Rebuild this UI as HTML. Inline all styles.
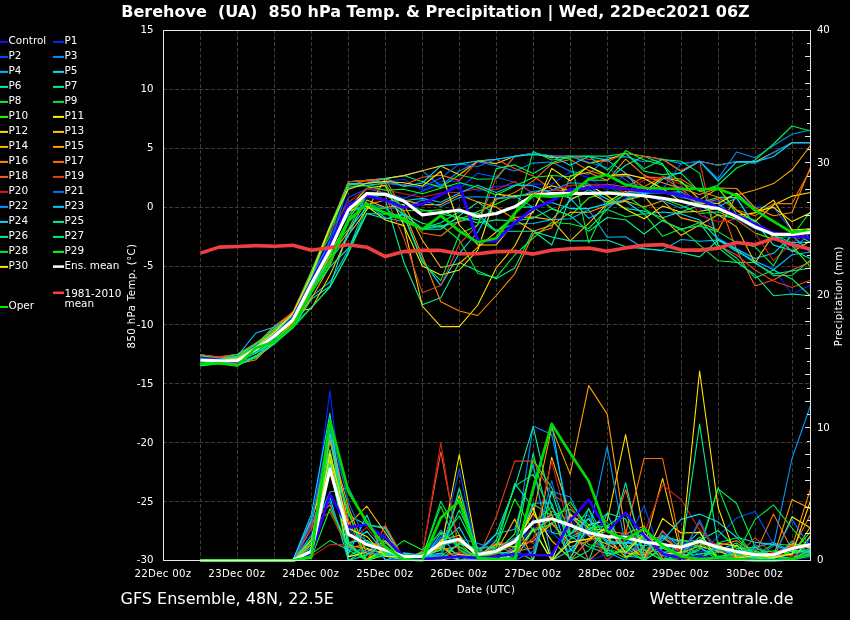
<!DOCTYPE html>
<html><head><meta charset="utf-8"><style>html,body{margin:0;padding:0;background:#000;width:850px;height:620px;overflow:hidden}svg{display:block}</style></head>
<body><svg width="850" height="620" viewBox="0 0 850 620">
<rect width="850" height="620" fill="#000"/>
<path d="M163.5 501.50H810.5M163.5 442.50H810.5M163.5 383.50H810.5M163.5 324.50H810.5M163.5 266.50H810.5M163.5 207.50H810.5M163.5 148.50H810.5M163.5 89.50H810.5" stroke="#3e3e30" stroke-width="1" stroke-dasharray="3.9,2.1" stroke-dashoffset="0.45" fill="none"/>
<path d="M200.50 560.5V30.5M237.50 560.5V30.5M274.50 560.5V30.5M311.50 560.5V30.5M348.50 560.5V30.5M385.50 560.5V30.5M422.50 560.5V30.5M459.50 560.5V30.5M496.50 560.5V30.5M533.50 560.5V30.5M570.50 560.5V30.5M607.50 560.5V30.5M644.50 560.5V30.5M681.50 560.5V30.5M718.50 560.5V30.5M755.50 560.5V30.5M792.50 560.5V30.5" stroke="#3e3e30" stroke-width="1" stroke-dasharray="3.9,2.1" stroke-dashoffset="1.45" fill="none"/>
<polyline points="200.5,356.8 219.0,359.3 237.4,358.8 255.9,346.8 274.4,326.3 292.9,313.1 311.4,276.1 329.9,239.9 348.4,187.2 366.8,184.1 385.3,181.3 403.8,179.3 422.3,190.2 440.8,181.4 459.3,181.5 477.8,191.1 496.2,186.4 514.7,185.4 533.2,184.1 551.7,184.3 570.2,171.9 588.7,177.8 607.2,190.6 625.6,173.6 644.1,188.1 662.6,190.7 681.1,186.4 699.6,206.9 718.1,238.0 736.6,248.0 755.1,262.0 773.5,268.0 792.0,294.5 810.5,285.0" fill="none" stroke="#0028ff" stroke-width="1.1" stroke-linejoin="round"/>
<polyline points="200.5,359.2 219.0,360.6 237.4,361.5 255.9,348.9 274.4,335.4 292.9,318.5 311.4,282.1 329.9,240.3 348.4,197.5 366.8,188.8 385.3,192.9 403.8,198.4 422.3,191.3 440.8,184.1 459.3,188.9 477.8,173.2 496.2,177.1 514.7,182.3 533.2,193.6 551.7,193.6 570.2,190.4 588.7,186.9 607.2,185.2 625.6,197.1 644.1,192.7 662.6,192.1 681.1,197.8 699.6,200.2 718.1,201.2 736.6,193.4 755.1,207.4 773.5,206.8 792.0,231.2 810.5,232.1" fill="none" stroke="#0050ff" stroke-width="1.1" stroke-linejoin="round"/>
<polyline points="200.5,355.7 219.0,358.6 237.4,355.7 255.9,345.7 274.4,330.3 292.9,316.1 311.4,271.4 329.9,231.0 348.4,181.8 366.8,180.4 385.3,178.5 403.8,175.6 422.3,170.8 440.8,186.0 459.3,171.0 477.8,161.7 496.2,165.8 514.7,171.0 533.2,163.1 551.7,162.0 570.2,171.2 588.7,174.2 607.2,157.6 625.6,156.6 644.1,162.0 662.6,159.2 681.1,163.6 699.6,161.3 718.1,178.6 736.6,152.0 755.1,157.8 773.5,145.5 792.0,134.2 810.5,130.0" fill="none" stroke="#0090ff" stroke-width="1.1" stroke-linejoin="round"/>
<polyline points="200.5,363.2 219.0,363.1 237.4,362.0 255.9,356.6 274.4,338.7 292.9,325.5 311.4,296.6 329.9,282.0 348.4,249.9 366.8,202.9 385.3,218.0 403.8,221.5 422.3,229.3 440.8,226.4 459.3,221.8 477.8,216.6 496.2,230.5 514.7,224.0 533.2,223.5 551.7,219.6 570.2,218.7 588.7,209.8 607.2,237.3 625.6,236.7 644.1,248.8 662.6,250.0 681.1,239.5 699.6,241.2 718.1,240.1 736.6,251.7 755.1,261.0 773.5,269.7 792.0,254.7 810.5,252.0" fill="none" stroke="#00b8ff" stroke-width="1.1" stroke-linejoin="round"/>
<polyline points="200.5,364.3 219.0,362.0 237.4,361.3 255.9,352.2 274.4,341.6 292.9,321.0 311.4,287.7 329.9,252.9 348.4,206.6 366.8,196.5 385.3,199.5 403.8,215.0 422.3,260.4 440.8,285.6 459.3,253.4 477.8,232.0 496.2,199.1 514.7,196.1 533.2,207.4 551.7,202.4 570.2,208.6 588.7,208.6 607.2,203.6 625.6,201.3 644.1,214.3 662.6,212.0 681.1,213.9 699.6,220.0 718.1,239.1 736.6,249.1 755.1,258.5 773.5,253.3 792.0,235.5 810.5,252.1" fill="none" stroke="#00e0ff" stroke-width="1.1" stroke-linejoin="round"/>
<polyline points="200.5,364.3 219.0,362.6 237.4,364.2 255.9,357.7 274.4,343.8 292.9,327.5 311.4,299.1 329.9,286.3 348.4,230.4 366.8,207.2 385.3,212.6 403.8,217.9 422.3,229.3 440.8,229.3 459.3,215.8 477.8,202.1 496.2,214.9 514.7,206.7 533.2,207.1 551.7,219.6 570.2,200.6 588.7,189.6 607.2,199.1 625.6,208.5 644.1,211.1 662.6,217.8 681.1,211.8 699.6,205.6 718.1,214.9 736.6,218.7 755.1,222.1 773.5,245.1 792.0,250.2 810.5,258.5" fill="none" stroke="#00f0c0" stroke-width="1.1" stroke-linejoin="round"/>
<polyline points="200.5,359.1 219.0,359.9 237.4,358.5 255.9,346.3 274.4,334.5 292.9,318.0 311.4,283.0 329.9,249.8 348.4,229.4 366.8,193.2 385.3,200.0 403.8,262.0 422.3,304.8 440.8,297.7 459.3,262.4 477.8,271.0 496.2,278.7 514.7,268.0 533.2,231.0 551.7,245.0 570.2,197.3 588.7,180.0 607.2,180.2 625.6,165.3 644.1,156.2 662.6,163.8 681.1,196.2 699.6,203.0 718.1,197.4 736.6,197.6 755.1,226.5 773.5,234.6 792.0,234.4 810.5,231.6" fill="none" stroke="#00f090" stroke-width="1.1" stroke-linejoin="round"/>
<polyline points="200.5,355.5 219.0,358.6 237.4,357.3 255.9,344.7 274.4,326.3 292.9,313.8 311.4,271.4 329.9,235.8 348.4,181.8 366.8,180.4 385.3,178.7 403.8,175.6 422.3,181.8 440.8,187.4 459.3,174.8 477.8,179.2 496.2,178.8 514.7,156.3 533.2,153.3 551.7,156.1 570.2,158.0 588.7,156.1 607.2,156.1 625.6,153.2 644.1,171.2 662.6,174.6 681.1,173.1 699.6,191.7 718.1,185.0 736.6,168.0 755.1,160.0 773.5,144.0 792.0,126.0 810.5,131.0" fill="none" stroke="#00f050" stroke-width="1.1" stroke-linejoin="round"/>
<polyline points="200.5,365.4 219.0,363.5 237.4,365.3 255.9,357.3 274.4,342.2 292.9,325.7 311.4,307.5 329.9,287.2 348.4,253.1 366.8,207.9 385.3,208.4 403.8,221.5 422.3,229.3 440.8,225.0 459.3,240.0 477.8,273.5 496.2,277.6 514.7,255.0 533.2,238.0 551.7,222.5 570.2,223.8 588.7,228.5 607.2,209.6 625.6,216.8 644.1,213.6 662.6,236.3 681.1,228.7 699.6,244.9 718.1,260.8 736.6,262.4 755.1,262.5 773.5,275.6 792.0,275.3 810.5,260.0" fill="none" stroke="#00f030" stroke-width="1.1" stroke-linejoin="round"/>
<polyline points="200.5,361.1 219.0,362.8 237.4,362.5 255.9,351.4 274.4,335.8 292.9,320.3 311.4,282.5 329.9,244.7 348.4,215.3 366.8,193.1 385.3,199.8 403.8,210.2 422.3,211.0 440.8,209.8 459.3,219.5 477.8,211.4 496.2,204.0 514.7,195.5 533.2,194.7 551.7,208.3 570.2,215.8 588.7,198.0 607.2,191.8 625.6,192.2 644.1,197.0 662.6,198.7 681.1,205.5 699.6,213.5 718.1,211.7 736.6,219.8 755.1,233.1 773.5,239.2 792.0,245.4 810.5,266.9" fill="none" stroke="#20ff00" stroke-width="1.1" stroke-linejoin="round"/>
<polyline points="200.5,360.9 219.0,361.1 237.4,359.5 255.9,349.2 274.4,332.3 292.9,315.8 311.4,282.9 329.9,252.6 348.4,211.0 366.8,206.0 385.3,220.0 403.8,225.6 422.3,266.0 440.8,275.0 459.3,270.0 477.8,250.0 496.2,194.1 514.7,196.5 533.2,193.5 551.7,185.8 570.2,190.9 588.7,184.8 607.2,195.7 625.6,209.2 644.1,218.8 662.6,206.1 681.1,212.3 699.6,211.2 718.1,208.5 736.6,215.4 755.1,212.9 773.5,200.1 792.0,230.1 810.5,228.7" fill="none" stroke="#ffee00" stroke-width="1.1" stroke-linejoin="round"/>
<polyline points="200.5,359.2 219.0,360.7 237.4,357.7 255.9,344.8 274.4,332.6 292.9,318.3 311.4,280.3 329.9,248.7 348.4,208.1 366.8,188.4 385.3,185.4 403.8,225.0 422.3,306.0 440.8,326.6 459.3,326.6 477.8,305.0 496.2,268.0 514.7,246.0 533.2,210.0 551.7,176.6 570.2,199.1 588.7,192.3 607.2,202.2 625.6,191.5 644.1,192.2 662.6,177.3 681.1,181.5 699.6,199.6 718.1,188.4 736.6,210.5 755.1,221.5 773.5,205.1 792.0,196.1 810.5,192.5" fill="none" stroke="#ffdd00" stroke-width="1.1" stroke-linejoin="round"/>
<polyline points="200.5,354.7 219.0,357.1 237.4,354.2 255.9,345.0 274.4,330.0 292.9,312.0 311.4,308.7 329.9,275.0 348.4,235.0 366.8,210.0 385.3,178.5 403.8,175.6 422.3,170.8 440.8,165.9 459.3,174.7 477.8,161.0 496.2,163.6 514.7,156.3 533.2,153.3 551.7,157.6 570.2,156.1 588.7,163.1 607.2,159.7 625.6,153.2 644.1,156.2 662.6,159.2 681.1,171.3 699.6,161.3 718.1,165.3 736.6,161.6 755.1,161.9 773.5,152.4 792.0,142.7 810.5,142.7" fill="none" stroke="#ffcc00" stroke-width="1.1" stroke-linejoin="round"/>
<polyline points="200.5,365.0 219.0,361.8 237.4,361.6 255.9,350.9 274.4,336.4 292.9,322.5 311.4,289.2 329.9,256.9 348.4,231.5 366.8,200.0 385.3,207.5 403.8,204.3 422.3,240.0 440.8,267.5 459.3,263.5 477.8,247.3 496.2,232.0 514.7,217.3 533.2,217.1 551.7,219.7 570.2,240.9 588.7,223.3 607.2,203.6 625.6,200.1 644.1,195.6 662.6,218.1 681.1,235.3 699.6,225.1 718.1,214.8 736.6,226.9 755.1,263.1 773.5,234.1 792.0,251.7 810.5,241.0" fill="none" stroke="#ffbb00" stroke-width="1.1" stroke-linejoin="round"/>
<polyline points="200.5,363.9 219.0,361.6 237.4,362.0 255.9,349.4 274.4,335.7 292.9,323.2 311.4,298.5 329.9,265.8 348.4,219.1 366.8,192.6 385.3,194.2 403.8,200.1 422.3,204.6 440.8,204.6 459.3,194.9 477.8,201.9 496.2,207.0 514.7,219.3 533.2,231.2 551.7,225.2 570.2,212.4 588.7,212.2 607.2,205.3 625.6,201.1 644.1,207.1 662.6,200.8 681.1,217.9 699.6,222.4 718.1,230.2 736.6,195.0 755.1,190.0 773.5,183.6 792.0,169.8 810.5,145.5" fill="none" stroke="#ffa000" stroke-width="1.1" stroke-linejoin="round"/>
<polyline points="200.5,358.3 219.0,359.4 237.4,364.0 255.9,359.7 274.4,341.0 292.9,323.0 311.4,292.0 329.9,255.0 348.4,220.0 366.8,205.0 385.3,200.0 403.8,211.0 422.3,256.0 440.8,301.8 459.3,311.0 477.8,315.5 496.2,295.5 514.7,274.0 533.2,234.0 551.7,228.0 570.2,175.9 588.7,172.4 607.2,180.5 625.6,159.1 644.1,175.3 662.6,182.7 681.1,188.4 699.6,194.6 718.1,188.0 736.6,188.5 755.1,207.8 773.5,215.8 792.0,212.5 810.5,167.2" fill="none" stroke="#ff8c00" stroke-width="1.1" stroke-linejoin="round"/>
<polyline points="200.5,358.0 219.0,360.2 237.4,360.2 255.9,348.0 274.4,328.8 292.9,316.9 311.4,277.9 329.9,226.7 348.4,185.7 366.8,180.4 385.3,178.5 403.8,212.0 422.3,233.0 440.8,236.0 459.3,221.0 477.8,215.0 496.2,199.3 514.7,192.5 533.2,180.9 551.7,163.9 570.2,159.5 588.7,170.6 607.2,176.0 625.6,175.8 644.1,186.7 662.6,176.8 681.1,179.1 699.6,190.7 718.1,197.2 736.6,210.0 755.1,215.7 773.5,203.6 792.0,203.6 810.5,169.3" fill="none" stroke="#ff7000" stroke-width="1.1" stroke-linejoin="round"/>
<polyline points="200.5,354.7 219.0,358.1 237.4,356.3 255.9,344.9 274.4,326.3 292.9,312.2 311.4,271.4 329.9,226.7 348.4,181.8 366.8,180.4 385.3,182.5 403.8,185.0 422.3,177.3 440.8,175.1 459.3,180.4 477.8,161.0 496.2,159.2 514.7,168.4 533.2,175.9 551.7,189.5 570.2,191.6 588.7,187.6 607.2,184.2 625.6,187.0 644.1,177.1 662.6,177.6 681.1,188.9 699.6,205.0 718.1,198.9 736.6,250.0 755.1,286.0 773.5,280.0 792.0,270.0 810.5,262.0" fill="none" stroke="#ff5a20" stroke-width="1.1" stroke-linejoin="round"/>
<polyline points="200.5,354.7 219.0,357.1 237.4,354.2 255.9,342.7 274.4,330.7 292.9,312.2 311.4,271.4 329.9,226.7 348.4,181.8 366.8,180.4 385.3,196.0 403.8,238.0 422.3,292.7 440.8,285.6 459.3,244.0 477.8,225.0 496.2,177.6 514.7,156.3 533.2,153.3 551.7,156.1 570.2,156.1 588.7,159.3 607.2,161.8 625.6,153.2 644.1,156.2 662.6,159.2 681.1,170.6 699.6,161.3 718.1,245.0 736.6,255.0 755.1,270.0 773.5,281.0 792.0,287.6 810.5,280.0" fill="none" stroke="#e04020" stroke-width="1.1" stroke-linejoin="round"/>
<polyline points="200.5,360.9 219.0,360.7 237.4,359.5 255.9,348.4 274.4,335.7 292.9,318.2 311.4,276.7 329.9,232.1 348.4,202.2 366.8,188.6 385.3,189.8 403.8,193.8 422.3,197.3 440.8,193.0 459.3,192.3 477.8,188.8 496.2,189.8 514.7,181.4 533.2,193.3 551.7,191.0 570.2,185.4 588.7,184.6 607.2,185.0 625.6,192.8 644.1,179.9 662.6,177.4 681.1,184.2 699.6,215.1 718.1,221.8 736.6,219.4 755.1,233.0 773.5,260.7 792.0,242.6 810.5,230.7" fill="none" stroke="#cc2020" stroke-width="1.1" stroke-linejoin="round"/>
<polyline points="200.5,358.3 219.0,359.6 237.4,358.9 255.9,344.9 274.4,334.9 292.9,319.8 311.4,282.8 329.9,247.1 348.4,184.4 366.8,185.6 385.3,183.4 403.8,185.4 422.3,187.3 440.8,178.1 459.3,163.9 477.8,166.5 496.2,159.2 514.7,156.9 533.2,153.3 551.7,156.1 570.2,156.1 588.7,162.2 607.2,167.9 625.6,179.9 644.1,194.1 662.6,189.4 681.1,163.7 699.6,161.3 718.1,165.3 736.6,161.6 755.1,163.5 773.5,152.4 792.0,142.7 810.5,142.7" fill="none" stroke="#0070ff" stroke-width="1.1" stroke-linejoin="round"/>
<polyline points="200.5,359.9 219.0,360.6 237.4,360.2 255.9,348.8 274.4,334.5 292.9,318.1 311.4,276.8 329.9,242.4 348.4,214.9 366.8,203.2 385.3,208.3 403.8,207.9 422.3,199.9 440.8,206.6 459.3,197.4 477.8,196.8 496.2,197.6 514.7,197.9 533.2,191.2 551.7,190.2 570.2,182.8 588.7,183.9 607.2,205.7 625.6,198.9 644.1,195.3 662.6,200.6 681.1,208.3 699.6,200.9 718.1,203.5 736.6,218.2 755.1,228.7 773.5,234.9 792.0,251.2 810.5,232.1" fill="none" stroke="#0098ff" stroke-width="1.1" stroke-linejoin="round"/>
<polyline points="200.5,361.0 219.0,360.9 237.4,356.0 255.9,333.0 274.4,327.0 292.9,318.0 311.4,286.7 329.9,260.3 348.4,235.9 366.8,194.3 385.3,200.7 403.8,200.7 422.3,198.4 440.8,202.2 459.3,192.9 477.8,185.2 496.2,192.6 514.7,185.1 533.2,185.7 551.7,193.0 570.2,198.2 588.7,218.4 607.2,209.2 625.6,193.2 644.1,192.8 662.6,193.0 681.1,191.6 699.6,205.4 718.1,206.8 736.6,198.0 755.1,226.3 773.5,235.3 792.0,242.5 810.5,242.1" fill="none" stroke="#00c8ff" stroke-width="1.1" stroke-linejoin="round"/>
<polyline points="200.5,357.2 219.0,358.6 237.4,358.7 255.9,346.6 274.4,332.3 292.9,316.8 311.4,271.5 329.9,228.2 348.4,183.6 366.8,183.3 385.3,178.5 403.8,186.4 422.3,183.0 440.8,165.9 459.3,163.9 477.8,161.0 496.2,159.2 514.7,156.3 533.2,154.6 551.7,156.1 570.2,165.3 588.7,156.6 607.2,160.1 625.6,173.1 644.1,194.8 662.6,179.1 681.1,172.3 699.6,161.3 718.1,181.0 736.6,161.6 755.1,161.9 773.5,156.5 792.0,142.7 810.5,142.7" fill="none" stroke="#00d8ff" stroke-width="1.1" stroke-linejoin="round"/>
<polyline points="200.5,364.7 219.0,361.7 237.4,361.7 255.9,353.3 274.4,341.6 292.9,325.4 311.4,291.9 329.9,266.8 348.4,248.3 366.8,213.5 385.3,218.7 403.8,214.6 422.3,228.4 440.8,222.7 459.3,211.8 477.8,213.4 496.2,231.3 514.7,231.3 533.2,231.2 551.7,237.0 570.2,240.9 588.7,240.9 607.2,240.0 625.6,246.8 644.1,248.8 662.6,250.8 681.1,252.8 699.6,256.9 718.1,240.0 736.6,250.0 755.1,263.0 773.5,274.0 792.0,271.0 810.5,268.0" fill="none" stroke="#00f0b0" stroke-width="1.1" stroke-linejoin="round"/>
<polyline points="200.5,365.9 219.0,363.7 237.4,365.9 255.9,355.6 274.4,343.4 292.9,327.8 311.4,307.5 329.9,287.2 348.4,252.8 366.8,213.5 385.3,214.3 403.8,214.3 422.3,223.3 440.8,227.3 459.3,217.3 477.8,223.0 496.2,219.9 514.7,221.0 533.2,218.1 551.7,208.9 570.2,215.6 588.7,231.3 607.2,217.5 625.6,219.7 644.1,234.0 662.6,220.3 681.1,230.0 699.6,222.6 718.1,247.6 736.6,262.0 755.1,275.0 773.5,295.7 792.0,294.0 810.5,295.7" fill="none" stroke="#00f090" stroke-width="1.1" stroke-linejoin="round"/>
<polyline points="200.5,355.3 219.0,359.2 237.4,354.2 255.9,344.2 274.4,328.7 292.9,316.8 311.4,277.3 329.9,229.2 348.4,187.3 366.8,185.5 385.3,183.0 403.8,215.0 422.3,262.4 440.8,280.6 459.3,234.2 477.8,225.0 496.2,168.6 514.7,164.9 533.2,173.6 551.7,163.1 570.2,156.1 588.7,156.1 607.2,170.1 625.6,153.2 644.1,168.7 662.6,159.6 681.1,161.2 699.6,173.1 718.1,245.0 736.6,258.0 755.1,278.0 773.5,270.0 792.0,279.0 810.5,296.0" fill="none" stroke="#00f060" stroke-width="1.1" stroke-linejoin="round"/>
<polyline points="200.5,361.9 219.0,362.2 237.4,361.8 255.9,352.6 274.4,338.4 292.9,320.9 311.4,285.3 329.9,255.3 348.4,218.4 366.8,195.1 385.3,195.4 403.8,206.3 422.3,209.7 440.8,213.9 459.3,217.7 477.8,219.6 496.2,231.3 514.7,215.8 533.2,151.5 551.7,160.0 570.2,158.0 588.7,242.9 607.2,203.4 625.6,194.8 644.1,208.5 662.6,220.9 681.1,228.8 699.6,225.9 718.1,231.6 736.6,242.7 755.1,246.8 773.5,265.9 792.0,232.0 810.5,242.4" fill="none" stroke="#00f030" stroke-width="1.1" stroke-linejoin="round"/>
<polyline points="200.5,355.9 219.0,359.4 237.4,357.7 255.9,343.5 274.4,331.1 292.9,314.0 311.4,272.2 329.9,226.7 348.4,183.9 366.8,186.0 385.3,190.2 403.8,189.2 422.3,193.8 440.8,188.3 459.3,182.7 477.8,187.2 496.2,195.0 514.7,186.1 533.2,177.5 551.7,175.5 570.2,176.8 588.7,166.6 607.2,175.0 625.6,150.6 644.1,160.0 662.6,165.0 681.1,183.2 699.6,190.4 718.1,186.7 736.6,214.3 755.1,220.3 773.5,237.7 792.0,236.5 810.5,211.5" fill="none" stroke="#00ff20" stroke-width="1.1" stroke-linejoin="round"/>
<polyline points="200.5,357.8 219.0,359.7 237.4,358.9 255.9,347.1 274.4,332.4 292.9,313.0 311.4,274.9 329.9,226.7 348.4,189.2 366.8,183.2 385.3,181.5 403.8,182.8 422.3,186.0 440.8,171.3 459.3,225.0 477.8,245.0 496.2,245.0 514.7,222.0 533.2,212.0 551.7,168.4 570.2,180.7 588.7,166.2 607.2,175.8 625.6,174.1 644.1,178.4 662.6,188.5 681.1,201.9 699.6,203.7 718.1,203.5 736.6,193.2 755.1,211.4 773.5,207.4 792.0,221.6 810.5,212.8" fill="none" stroke="#ffe600" stroke-width="1.1" stroke-linejoin="round"/>
<polyline points="200.5,560.5 219.0,560.5 237.4,560.5 255.9,560.5 274.4,560.5 292.9,560.5 311.4,534.0 329.9,390.9 348.4,547.2 366.8,560.5 385.3,551.4 403.8,560.5 422.3,558.0 440.8,536.8 459.3,557.8 477.8,548.4 496.2,539.4 514.7,553.6 533.2,519.2 551.7,534.7 570.2,513.8 588.7,560.5 607.2,554.3 625.6,548.2 644.1,560.5 662.6,560.5 681.1,547.3 699.6,551.5 718.1,549.8 736.6,545.5 755.1,560.5 773.5,560.5 792.0,553.1 810.5,539.9" fill="none" stroke="#0028ff" stroke-width="1.1" stroke-linejoin="round"/>
<polyline points="200.5,560.5 219.0,560.5 237.4,560.5 255.9,560.5 274.4,560.5 292.9,560.5 311.4,540.8 329.9,433.3 348.4,527.1 366.8,555.5 385.3,532.5 403.8,560.5 422.3,557.0 440.8,547.2 459.3,469.1 477.8,556.5 496.2,557.4 514.7,548.3 533.2,527.6 551.7,531.4 570.2,552.2 588.7,531.9 607.2,560.5 625.6,545.0 644.1,505.9 662.6,560.5 681.1,540.3 699.6,553.9 718.1,536.6 736.6,518.1 755.1,511.5 773.5,544.6 792.0,556.5 810.5,557.9" fill="none" stroke="#0050ff" stroke-width="1.1" stroke-linejoin="round"/>
<polyline points="200.5,560.5 219.0,560.5 237.4,560.5 255.9,560.5 274.4,560.5 292.9,560.5 311.4,555.0 329.9,427.5 348.4,541.7 366.8,560.5 385.3,548.0 403.8,560.5 422.3,557.9 440.8,530.0 459.3,549.4 477.8,557.6 496.2,560.5 514.7,547.2 533.2,426.0 551.7,434.6 570.2,520.8 588.7,515.0 607.2,554.2 625.6,534.1 644.1,555.1 662.6,535.3 681.1,542.0 699.6,555.8 718.1,543.9 736.6,560.5 755.1,544.6 773.5,557.1 792.0,560.1 810.5,537.2" fill="none" stroke="#0090ff" stroke-width="1.1" stroke-linejoin="round"/>
<polyline points="200.5,560.5 219.0,560.5 237.4,560.5 255.9,560.5 274.4,560.5 292.9,560.5 311.4,535.6 329.9,492.0 348.4,487.6 366.8,524.7 385.3,527.4 403.8,559.2 422.3,555.6 440.8,560.5 459.3,555.9 477.8,553.9 496.2,533.8 514.7,529.3 533.2,464.7 551.7,560.5 570.2,513.9 588.7,534.7 607.2,552.1 625.6,560.5 644.1,536.5 662.6,538.3 681.1,548.8 699.6,558.7 718.1,549.6 736.6,560.3 755.1,547.4 773.5,542.5 792.0,551.4 810.5,551.5" fill="none" stroke="#00b8ff" stroke-width="1.1" stroke-linejoin="round"/>
<polyline points="200.5,560.5 219.0,560.5 237.4,560.5 255.9,560.5 274.4,560.5 292.9,560.5 311.4,547.1 329.9,497.1 348.4,560.5 366.8,549.4 385.3,553.0 403.8,557.5 422.3,558.9 440.8,542.9 459.3,527.0 477.8,560.5 496.2,549.9 514.7,560.5 533.2,529.7 551.7,560.5 570.2,538.9 588.7,530.5 607.2,513.3 625.6,556.0 644.1,558.0 662.6,531.7 681.1,548.4 699.6,531.6 718.1,560.5 736.6,551.0 755.1,557.8 773.5,554.9 792.0,560.5 810.5,552.9" fill="none" stroke="#00e0ff" stroke-width="1.1" stroke-linejoin="round"/>
<polyline points="200.5,560.5 219.0,560.5 237.4,560.5 255.9,560.5 274.4,560.5 292.9,560.5 311.4,519.0 329.9,450.1 348.4,545.4 366.8,531.2 385.3,553.6 403.8,554.9 422.3,556.7 440.8,545.1 459.3,541.3 477.8,551.3 496.2,534.0 514.7,487.6 533.2,426.7 551.7,507.5 570.2,536.9 588.7,528.6 607.2,540.4 625.6,543.5 644.1,539.5 662.6,560.5 681.1,553.1 699.6,560.5 718.1,543.1 736.6,559.3 755.1,556.9 773.5,556.2 792.0,553.9 810.5,548.9" fill="none" stroke="#00f0c0" stroke-width="1.1" stroke-linejoin="round"/>
<polyline points="200.5,560.5 219.0,560.5 237.4,560.5 255.9,560.5 274.4,560.5 292.9,560.5 311.4,520.1 329.9,439.5 348.4,515.5 366.8,524.7 385.3,528.7 403.8,559.2 422.3,558.4 440.8,541.4 459.3,515.7 477.8,553.1 496.2,553.4 514.7,551.6 533.2,453.0 551.7,532.5 570.2,536.3 588.7,546.7 607.2,553.8 625.6,551.0 644.1,560.5 662.6,536.6 681.1,540.9 699.6,540.6 718.1,530.5 736.6,548.5 755.1,547.6 773.5,555.8 792.0,559.4 810.5,550.5" fill="none" stroke="#00f090" stroke-width="1.1" stroke-linejoin="round"/>
<polyline points="200.5,560.5 219.0,560.5 237.4,560.5 255.9,560.5 274.4,560.5 292.9,560.5 311.4,553.9 329.9,540.6 348.4,549.9 366.8,560.5 385.3,537.2 403.8,556.5 422.3,557.2 440.8,501.4 459.3,535.0 477.8,559.5 496.2,543.6 514.7,547.5 533.2,504.2 551.7,515.5 570.2,509.2 588.7,524.7 607.2,550.3 625.6,552.2 644.1,535.5 662.6,542.9 681.1,557.5 699.6,549.9 718.1,488.9 736.6,503.5 755.1,547.2 773.5,557.9 792.0,553.6 810.5,545.2" fill="none" stroke="#00f050" stroke-width="1.1" stroke-linejoin="round"/>
<polyline points="200.5,560.5 219.0,560.5 237.4,560.5 255.9,560.5 274.4,560.5 292.9,560.5 311.4,558.4 329.9,459.7 348.4,556.7 366.8,544.7 385.3,556.3 403.8,560.5 422.3,553.0 440.8,560.5 459.3,542.6 477.8,560.5 496.2,555.7 514.7,553.2 533.2,530.5 551.7,519.0 570.2,522.8 588.7,544.5 607.2,549.1 625.6,558.0 644.1,549.4 662.6,560.5 681.1,539.3 699.6,547.2 718.1,487.6 736.6,534.0 755.1,555.7 773.5,544.0 792.0,545.3 810.5,544.6" fill="none" stroke="#00f030" stroke-width="1.1" stroke-linejoin="round"/>
<polyline points="200.5,560.5 219.0,560.5 237.4,560.5 255.9,560.5 274.4,560.5 292.9,560.5 311.4,538.7 329.9,456.4 348.4,510.9 366.8,560.5 385.3,549.1 403.8,558.2 422.3,556.2 440.8,546.6 459.3,554.4 477.8,558.5 496.2,552.0 514.7,534.0 533.2,459.8 551.7,487.6 570.2,534.0 588.7,518.5 607.2,555.8 625.6,549.9 644.1,535.6 662.6,547.7 681.1,558.0 699.6,548.0 718.1,557.1 736.6,554.4 755.1,556.4 773.5,558.8 792.0,550.8 810.5,550.4" fill="none" stroke="#20ff00" stroke-width="1.1" stroke-linejoin="round"/>
<polyline points="200.5,560.5 219.0,560.5 237.4,560.5 255.9,560.5 274.4,560.5 292.9,560.5 311.4,521.1 329.9,460.0 348.4,556.9 366.8,551.9 385.3,540.7 403.8,560.5 422.3,556.3 440.8,549.9 459.3,454.5 477.8,553.9 496.2,560.5 514.7,554.2 533.2,528.8 551.7,560.5 570.2,514.2 588.7,528.2 607.2,530.6 625.6,544.1 644.1,558.4 662.6,518.4 681.1,533.0 699.6,532.4 718.1,560.5 736.6,544.9 755.1,560.5 773.5,557.9 792.0,516.8 810.5,528.0" fill="none" stroke="#ffee00" stroke-width="1.1" stroke-linejoin="round"/>
<polyline points="200.5,560.5 219.0,560.5 237.4,560.5 255.9,560.5 274.4,560.5 292.9,560.5 311.4,540.3 329.9,454.6 348.4,545.6 366.8,548.3 385.3,554.5 403.8,560.5 422.3,560.5 440.8,539.9 459.3,535.3 477.8,558.7 496.2,551.8 514.7,542.5 533.2,513.4 551.7,540.6 570.2,558.3 588.7,524.6 607.2,520.8 625.6,434.6 644.1,534.0 662.6,556.0 681.1,553.0 699.6,546.1 718.1,551.4 736.6,557.3 755.1,555.3 773.5,557.8 792.0,543.6 810.5,546.9" fill="none" stroke="#ffdd00" stroke-width="1.1" stroke-linejoin="round"/>
<polyline points="200.5,560.5 219.0,560.5 237.4,560.5 255.9,560.5 274.4,560.5 292.9,560.5 311.4,550.1 329.9,471.2 348.4,543.4 366.8,559.2 385.3,548.5 403.8,557.6 422.3,552.7 440.8,548.1 459.3,495.3 477.8,556.0 496.2,544.2 514.7,546.7 533.2,541.1 551.7,523.6 570.2,542.5 588.7,538.8 607.2,537.5 625.6,557.1 644.1,547.2 662.6,478.4 681.1,553.9 699.6,560.5 718.1,543.3 736.6,545.9 755.1,557.6 773.5,560.5 792.0,560.5 810.5,535.6" fill="none" stroke="#ffcc00" stroke-width="1.1" stroke-linejoin="round"/>
<polyline points="200.5,560.5 219.0,560.5 237.4,560.5 255.9,560.5 274.4,560.5 292.9,560.5 311.4,544.4 329.9,424.5 348.4,524.7 366.8,506.2 385.3,532.7 403.8,559.2 422.3,556.6 440.8,545.0 459.3,560.5 477.8,557.5 496.2,551.8 514.7,518.9 533.2,560.5 551.7,457.2 570.2,515.3 588.7,536.0 607.2,544.3 625.6,553.0 644.1,554.7 662.6,546.8 681.1,554.9 699.6,560.5 718.1,558.2 736.6,557.6 755.1,551.5 773.5,555.4 792.0,555.0 810.5,526.8" fill="none" stroke="#ffbb00" stroke-width="1.1" stroke-linejoin="round"/>
<polyline points="200.5,560.5 219.0,560.5 237.4,560.5 255.9,560.5 274.4,560.5 292.9,560.5 311.4,544.7 329.9,440.9 348.4,506.9 366.8,553.9 385.3,553.4 403.8,558.0 422.3,554.2 440.8,546.3 459.3,560.5 477.8,558.8 496.2,553.6 514.7,542.9 533.2,513.9 551.7,427.6 570.2,474.4 588.7,385.6 607.2,414.1 625.6,534.0 644.1,526.0 662.6,558.7 681.1,560.5 699.6,558.0 718.1,546.9 736.6,556.8 755.1,560.5 773.5,556.5 792.0,499.6 810.5,508.8" fill="none" stroke="#ffa000" stroke-width="1.1" stroke-linejoin="round"/>
<polyline points="200.5,560.5 219.0,560.5 237.4,560.5 255.9,560.5 274.4,560.5 292.9,560.5 311.4,521.9 329.9,438.9 348.4,536.1 366.8,542.5 385.3,545.9 403.8,560.5 422.3,555.2 440.8,543.4 459.3,541.5 477.8,555.6 496.2,543.7 514.7,542.4 533.2,522.4 551.7,515.2 570.2,560.5 588.7,539.6 607.2,526.0 625.6,546.6 644.1,553.3 662.6,534.8 681.1,554.2 699.6,545.0 718.1,544.0 736.6,560.5 755.1,558.9 773.5,552.6 792.0,547.2 810.5,488.9" fill="none" stroke="#ff8c00" stroke-width="1.1" stroke-linejoin="round"/>
<polyline points="200.5,560.5 219.0,560.5 237.4,560.5 255.9,560.5 274.4,560.5 292.9,560.5 311.4,522.4 329.9,504.9 348.4,547.8 366.8,544.2 385.3,547.4 403.8,560.5 422.3,551.2 440.8,549.9 459.3,546.4 477.8,557.3 496.2,545.3 514.7,553.9 533.2,538.2 551.7,522.4 570.2,546.7 588.7,540.9 607.2,530.5 625.6,534.0 644.1,458.5 662.6,458.5 681.1,547.2 699.6,539.8 718.1,545.7 736.6,540.6 755.1,553.9 773.5,514.1 792.0,549.9 810.5,514.6" fill="none" stroke="#ff7000" stroke-width="1.1" stroke-linejoin="round"/>
<polyline points="200.5,560.5 219.0,560.5 237.4,560.5 255.9,560.5 274.4,560.5 292.9,560.5 311.4,528.7 329.9,466.6 348.4,519.9 366.8,560.5 385.3,525.4 403.8,558.4 422.3,553.9 440.8,451.9 459.3,549.9 477.8,560.5 496.2,540.6 514.7,551.6 533.2,547.8 551.7,511.2 570.2,519.7 588.7,560.5 607.2,544.9 625.6,489.7 644.1,553.6 662.6,554.3 681.1,547.6 699.6,542.8 718.1,548.8 736.6,555.4 755.1,557.8 773.5,553.3 792.0,546.0 810.5,548.1" fill="none" stroke="#ff5a20" stroke-width="1.1" stroke-linejoin="round"/>
<polyline points="200.5,560.5 219.0,560.5 237.4,560.5 255.9,560.5 274.4,560.5 292.9,560.5 311.4,525.0 329.9,512.1 348.4,549.2 366.8,551.2 385.3,556.2 403.8,558.0 422.3,555.3 440.8,556.8 459.3,552.1 477.8,557.9 496.2,516.8 514.7,461.1 533.2,461.1 551.7,494.2 570.2,505.9 588.7,530.4 607.2,550.2 625.6,531.0 644.1,560.5 662.6,530.4 681.1,554.5 699.6,522.5 718.1,558.3 736.6,555.8 755.1,537.9 773.5,554.4 792.0,560.5 810.5,560.5" fill="none" stroke="#e04020" stroke-width="1.1" stroke-linejoin="round"/>
<polyline points="200.5,560.5 219.0,560.5 237.4,560.5 255.9,560.5 274.4,560.5 292.9,560.5 311.4,556.5 329.9,544.6 348.4,544.6 366.8,527.0 385.3,551.3 403.8,560.5 422.3,555.2 440.8,442.6 459.3,556.5 477.8,559.4 496.2,553.4 514.7,538.9 533.2,543.2 551.7,461.3 570.2,533.1 588.7,530.6 607.2,560.5 625.6,538.4 644.1,534.0 662.6,485.0 681.1,499.6 699.6,530.0 718.1,547.2 736.6,560.5 755.1,553.2 773.5,553.2 792.0,556.6 810.5,549.5" fill="none" stroke="#cc2020" stroke-width="1.1" stroke-linejoin="round"/>
<polyline points="200.5,560.5 219.0,560.5 237.4,560.5 255.9,560.5 274.4,560.5 292.9,560.5 311.4,523.5 329.9,426.0 348.4,501.9 366.8,543.4 385.3,559.9 403.8,559.3 422.3,558.7 440.8,553.9 459.3,487.6 477.8,553.9 496.2,560.5 514.7,560.5 533.2,551.3 551.7,480.6 570.2,550.6 588.7,530.0 607.2,522.1 625.6,554.1 644.1,540.0 662.6,551.4 681.1,556.9 699.6,519.7 718.1,558.8 736.6,549.8 755.1,556.4 773.5,556.5 792.0,519.4 810.5,547.2" fill="none" stroke="#0070ff" stroke-width="1.1" stroke-linejoin="round"/>
<polyline points="200.5,560.5 219.0,560.5 237.4,560.5 255.9,560.5 274.4,560.5 292.9,560.5 311.4,518.4 329.9,501.9 348.4,549.3 366.8,551.9 385.3,555.5 403.8,553.3 422.3,559.2 440.8,537.4 459.3,538.8 477.8,543.3 496.2,549.9 514.7,537.7 533.2,555.4 551.7,491.5 570.2,497.0 588.7,534.0 607.2,446.6 625.6,547.2 644.1,550.7 662.6,535.4 681.1,543.1 699.6,560.5 718.1,545.9 736.6,560.5 755.1,557.9 773.5,545.9 792.0,458.5 810.5,405.5" fill="none" stroke="#0098ff" stroke-width="1.1" stroke-linejoin="round"/>
<polyline points="200.5,560.5 219.0,560.5 237.4,560.5 255.9,560.5 274.4,560.5 292.9,560.5 311.4,556.3 329.9,466.6 348.4,527.2 366.8,541.1 385.3,553.1 403.8,558.2 422.3,560.5 440.8,533.5 459.3,560.5 477.8,559.0 496.2,560.5 514.7,551.9 533.2,503.2 551.7,502.8 570.2,560.5 588.7,508.4 607.2,542.6 625.6,542.7 644.1,532.9 662.6,553.6 681.1,545.2 699.6,546.8 718.1,560.5 736.6,550.7 755.1,549.9 773.5,559.7 792.0,541.1 810.5,554.1" fill="none" stroke="#00c8ff" stroke-width="1.1" stroke-linejoin="round"/>
<polyline points="200.5,560.5 219.0,560.5 237.4,560.5 255.9,560.5 274.4,560.5 292.9,560.5 311.4,514.1 329.9,413.4 348.4,553.9 366.8,515.0 385.3,560.5 403.8,552.9 422.3,555.4 440.8,553.4 459.3,560.5 477.8,553.7 496.2,558.7 514.7,556.7 533.2,487.0 551.7,423.0 570.2,534.9 588.7,518.5 607.2,544.0 625.6,542.5 644.1,545.9 662.6,540.6 681.1,519.4 699.6,514.1 718.1,522.1 736.6,537.2 755.1,542.3 773.5,544.6 792.0,552.0 810.5,552.0" fill="none" stroke="#00d8ff" stroke-width="1.1" stroke-linejoin="round"/>
<polyline points="200.5,560.5 219.0,560.5 237.4,560.5 255.9,560.5 274.4,560.5 292.9,560.5 311.4,556.6 329.9,433.1 348.4,542.2 366.8,540.3 385.3,552.2 403.8,557.0 422.3,556.0 440.8,555.9 459.3,543.9 477.8,548.3 496.2,547.2 514.7,483.6 533.2,507.5 551.7,560.5 570.2,550.4 588.7,529.0 607.2,551.9 625.6,482.7 644.1,560.5 662.6,548.3 681.1,553.7 699.6,537.2 718.1,550.2 736.6,542.9 755.1,556.6 773.5,560.5 792.0,558.6 810.5,554.9" fill="none" stroke="#00f0b0" stroke-width="1.1" stroke-linejoin="round"/>
<polyline points="200.5,560.5 219.0,560.5 237.4,560.5 255.9,560.5 274.4,560.5 292.9,560.5 311.4,556.2 329.9,463.2 348.4,560.5 366.8,555.1 385.3,542.6 403.8,558.3 422.3,554.8 440.8,549.9 459.3,510.0 477.8,548.1 496.2,560.5 514.7,550.0 533.2,560.5 551.7,491.0 570.2,549.5 588.7,560.5 607.2,513.1 625.6,519.0 644.1,560.5 662.6,547.4 681.1,553.9 699.6,424.0 718.1,547.2 736.6,555.4 755.1,558.1 773.5,555.9 792.0,558.4 810.5,550.0" fill="none" stroke="#00f090" stroke-width="1.1" stroke-linejoin="round"/>
<polyline points="200.5,560.5 219.0,560.5 237.4,560.5 255.9,560.5 274.4,560.5 292.9,560.5 311.4,542.9 329.9,449.8 348.4,543.2 366.8,560.5 385.3,555.1 403.8,559.3 422.3,552.3 440.8,560.5 459.3,488.7 477.8,558.2 496.2,540.6 514.7,486.3 533.2,474.4 551.7,514.1 570.2,560.5 588.7,550.8 607.2,525.4 625.6,547.7 644.1,538.0 662.6,560.5 681.1,556.0 699.6,560.5 718.1,543.0 736.6,537.8 755.1,555.1 773.5,560.5 792.0,560.5 810.5,552.5" fill="none" stroke="#00f060" stroke-width="1.1" stroke-linejoin="round"/>
<polyline points="200.5,560.5 219.0,560.5 237.4,560.5 255.9,560.5 274.4,560.5 292.9,560.5 311.4,551.9 329.9,455.2 348.4,512.6 366.8,560.5 385.3,551.5 403.8,554.3 422.3,556.5 440.8,506.2 459.3,549.9 477.8,560.0 496.2,553.0 514.7,542.4 533.2,522.8 551.7,507.0 570.2,534.6 588.7,508.7 607.2,556.2 625.6,547.3 644.1,560.5 662.6,560.5 681.1,560.5 699.6,542.1 718.1,556.4 736.6,553.9 755.1,519.4 773.5,504.9 792.0,528.0 810.5,549.9" fill="none" stroke="#00f030" stroke-width="1.1" stroke-linejoin="round"/>
<polyline points="200.5,560.5 219.0,560.5 237.4,560.5 255.9,560.5 274.4,560.5 292.9,560.5 311.4,557.6 329.9,508.7 348.4,545.4 366.8,560.5 385.3,553.9 403.8,540.6 422.3,549.9 440.8,532.3 459.3,546.9 477.8,557.4 496.2,547.8 514.7,498.9 533.2,531.0 551.7,523.8 570.2,501.9 588.7,528.4 607.2,525.9 625.6,513.4 644.1,550.0 662.6,560.5 681.1,558.3 699.6,553.8 718.1,552.5 736.6,546.3 755.1,553.1 773.5,550.9 792.0,553.8 810.5,531.7" fill="none" stroke="#00ff20" stroke-width="1.1" stroke-linejoin="round"/>
<polyline points="200.5,560.5 219.0,560.5 237.4,560.5 255.9,560.5 274.4,560.5 292.9,560.5 311.4,556.4 329.9,452.7 348.4,528.3 366.8,536.4 385.3,556.5 403.8,556.2 422.3,559.1 440.8,560.5 459.3,554.1 477.8,557.7 496.2,560.5 514.7,550.7 533.2,507.8 551.7,560.5 570.2,542.1 588.7,539.0 607.2,527.3 625.6,552.9 644.1,533.5 662.6,554.4 681.1,552.5 699.6,371.0 718.1,507.5 736.6,558.5 755.1,555.3 773.5,557.6 792.0,553.9 810.5,500.9" fill="none" stroke="#ffe600" stroke-width="1.1" stroke-linejoin="round"/>
<polyline points="200.5,358.0 219.0,360.0 237.4,362.0 255.9,350.0 274.4,336.0 292.9,318.0 311.4,282.0 329.9,246.0 348.4,205.0 366.8,196.0 385.3,200.0 403.8,207.6 422.3,204.0 440.8,194.7 459.3,185.3 477.8,241.0 496.2,241.0 514.7,222.9 533.2,208.7 551.7,201.0 570.2,189.6 588.7,188.2 607.2,186.1 625.6,189.0 644.1,191.0 662.6,192.0 681.1,195.1 699.6,199.7 718.1,207.4 736.6,215.0 755.1,224.0 773.5,233.0 792.0,236.0 810.5,238.0" fill="none" stroke="#2a00ff" stroke-width="3.0" stroke-linejoin="round"/>
<polyline points="200.5,560.5 219.0,560.5 237.4,560.5 255.9,560.5 274.4,560.5 292.9,560.5 311.4,553.9 329.9,494.2 348.4,527.4 366.8,524.7 385.3,538.0 403.8,556.5 422.3,559.2 440.8,557.9 459.3,556.5 477.8,557.9 496.2,556.5 514.7,553.9 533.2,555.2 551.7,555.2 570.2,520.8 588.7,499.6 607.2,531.4 625.6,512.8 644.1,535.3 662.6,553.9 681.1,557.9 699.6,556.5 718.1,559.2 736.6,559.2 755.1,560.5 773.5,560.5 792.0,559.2 810.5,556.5" fill="none" stroke="#2a00ff" stroke-width="2.6" stroke-linejoin="round"/>
<polyline points="200.5,360.0 219.0,360.7 237.4,360.7 255.9,349.4 274.4,336.0 292.9,319.8 311.4,283.8 329.9,249.9 348.4,210.0 366.8,193.5 385.3,194.2 403.8,201.0 422.3,214.9 440.8,212.5 459.3,210.0 477.8,216.5 496.2,213.5 514.7,206.7 533.2,195.3 551.7,193.5 570.2,193.5 588.7,193.4 607.2,193.0 625.6,194.5 644.1,195.7 662.6,198.2 681.1,201.2 699.6,205.8 718.1,208.5 736.6,216.6 755.1,226.9 773.5,234.4 792.0,234.4 810.5,232.1" fill="none" stroke="#ffffff" stroke-width="3.1" stroke-linejoin="round"/>
<polyline points="200.5,560.5 219.0,560.5 237.4,560.5 255.9,560.5 274.4,560.5 292.9,560.5 311.4,551.2 329.9,469.1 348.4,534.0 366.8,544.6 385.3,549.9 403.8,556.5 422.3,556.5 440.8,543.3 459.3,539.3 477.8,554.5 496.2,551.2 514.7,541.3 533.2,522.1 551.7,518.8 570.2,525.3 588.7,532.7 607.2,536.6 625.6,537.4 644.1,542.0 662.6,544.6 681.1,547.2 699.6,541.3 718.1,547.2 736.6,551.6 755.1,554.7 773.5,554.7 792.0,548.6 810.5,544.6" fill="none" stroke="#ffffff" stroke-width="3.1" stroke-linejoin="round"/>
<polyline points="200.5,253.1 219.0,247.1 237.4,246.5 255.9,245.6 274.4,246.3 292.9,245.2 311.4,250.3 329.9,247.6 348.4,244.8 366.8,247.2 385.3,256.6 403.8,251.6 422.3,250.4 440.8,250.4 459.3,253.8 477.8,253.8 496.2,251.6 514.7,251.3 533.2,254.1 551.7,250.3 570.2,248.8 588.7,248.1 607.2,251.3 625.6,247.9 644.1,245.4 662.6,244.6 681.1,250.1 699.6,250.1 718.1,248.1 736.6,242.5 755.1,244.6 773.5,238.4 792.0,244.6 810.5,249.3" fill="none" stroke="#ee4040" stroke-width="3.6" stroke-linejoin="round"/>
<polyline points="200.5,364.0 219.0,363.0 237.4,365.5 255.9,348.0 274.4,341.6 292.9,326.0 311.4,292.0 329.9,262.0 348.4,221.0 366.8,203.5 385.3,213.2 403.8,219.4 422.3,229.4 440.8,215.6 459.3,231.0 477.8,242.3 496.2,238.2 514.7,213.2 533.2,195.3 551.7,196.7 570.2,194.6 588.7,179.0 607.2,174.8 625.6,184.7 644.1,188.0 662.6,188.5 681.1,189.0 699.6,189.0 718.1,189.1 736.6,195.6 755.1,210.1 773.5,221.4 792.0,232.7 810.5,229.5" fill="none" stroke="#00dc00" stroke-width="2.7" stroke-linejoin="round"/>
<polyline points="200.5,560.5 219.0,560.5 237.4,560.5 255.9,560.5 274.4,560.5 292.9,560.5 311.4,556.5 329.9,420.0 348.4,491.6 366.8,522.1 385.3,547.2 403.8,559.2 422.3,560.5 440.8,518.1 459.3,500.9 477.8,557.9 496.2,559.2 514.7,559.2 533.2,488.9 551.7,424.0 570.2,453.2 588.7,481.0 607.2,531.4 625.6,539.3 644.1,528.7 662.6,545.9 681.1,556.5 699.6,559.2 718.1,557.9 736.6,559.2 755.1,560.5 773.5,560.5 792.0,559.2 810.5,555.2" fill="none" stroke="#00dc00" stroke-width="2.7" stroke-linejoin="round"/>
<rect x="163.5" y="30.5" width="647.0" height="530.0" fill="none" stroke="#e6e6e6" stroke-width="1"/>
<path d="M810.5 547.50h-3.5M810.5 533.50h-5.5M810.5 520.50h-3.5M810.5 507.50h-5.5M810.5 494.50h-3.5M810.5 480.50h-5.5M810.5 467.50h-3.5M810.5 454.50h-5.5M810.5 441.50h-3.5M810.5 427.50h-5.5M810.5 414.50h-3.5M810.5 401.50h-5.5M810.5 388.50h-3.5M810.5 374.50h-5.5M810.5 361.50h-3.5M810.5 348.50h-5.5M810.5 335.50h-3.5M810.5 321.50h-5.5M810.5 308.50h-3.5M810.5 295.50h-5.5M810.5 282.50h-3.5M810.5 268.50h-5.5M810.5 255.50h-3.5M810.5 242.50h-5.5M810.5 229.50h-3.5M810.5 215.50h-5.5M810.5 202.50h-3.5M810.5 189.50h-5.5M810.5 176.50h-3.5M810.5 162.50h-5.5M810.5 149.50h-3.5M810.5 136.50h-5.5M810.5 123.50h-3.5M810.5 109.50h-5.5M810.5 96.50h-3.5M810.5 83.50h-5.5M810.5 70.50h-3.5M810.5 56.50h-5.5M810.5 43.50h-3.5" stroke="#e6e6e6" stroke-width="1" fill="none"/>
<g font-family="'DejaVu Sans', 'Liberation Sans', sans-serif" fill="#fff">
<text x="435.5" y="17" font-size="16" font-weight="bold" text-anchor="middle">Berehove&#160; (UA)&#160; 850 hPa Temp. &amp; Precipitation | Wed, 22Dec2021 06Z</text>
<text x="153.5" y="563.40" font-size="10.2" text-anchor="end">-30</text>
<text x="153.5" y="504.51" font-size="10.2" text-anchor="end">-25</text>
<text x="153.5" y="445.62" font-size="10.2" text-anchor="end">-20</text>
<text x="153.5" y="386.73" font-size="10.2" text-anchor="end">-15</text>
<text x="153.5" y="327.84" font-size="10.2" text-anchor="end">-10</text>
<text x="153.5" y="268.96" font-size="10.2" text-anchor="end">-5</text>
<text x="153.5" y="210.07" font-size="10.2" text-anchor="end">0</text>
<text x="153.5" y="151.18" font-size="10.2" text-anchor="end">5</text>
<text x="153.5" y="92.29" font-size="10.2" text-anchor="end">10</text>
<text x="153.5" y="33.40" font-size="10.2" text-anchor="end">15</text>
<text x="816.9" y="563.20" font-size="10.2">0</text>
<text x="816.9" y="430.70" font-size="10.2">10</text>
<text x="816.9" y="298.20" font-size="10.2">20</text>
<text x="816.9" y="165.70" font-size="10.2">30</text>
<text x="816.9" y="33.20" font-size="10.2">40</text>
<text x="162.90" y="577" font-size="10.2" letter-spacing="0.3" text-anchor="middle">22Dec 00z</text>
<text x="236.84" y="577" font-size="10.2" letter-spacing="0.3" text-anchor="middle">23Dec 00z</text>
<text x="310.79" y="577" font-size="10.2" letter-spacing="0.3" text-anchor="middle">24Dec 00z</text>
<text x="384.73" y="577" font-size="10.2" letter-spacing="0.3" text-anchor="middle">25Dec 00z</text>
<text x="458.67" y="577" font-size="10.2" letter-spacing="0.3" text-anchor="middle">26Dec 00z</text>
<text x="532.61" y="577" font-size="10.2" letter-spacing="0.3" text-anchor="middle">27Dec 00z</text>
<text x="606.56" y="577" font-size="10.2" letter-spacing="0.3" text-anchor="middle">28Dec 00z</text>
<text x="680.50" y="577" font-size="10.2" letter-spacing="0.3" text-anchor="middle">29Dec 00z</text>
<text x="754.44" y="577" font-size="10.2" letter-spacing="0.3" text-anchor="middle">30Dec 00z</text>
<text x="486" y="592.5" font-size="10.2" letter-spacing="0.28" text-anchor="middle">Date (UTC)</text>
<text transform="translate(134.5 296) rotate(-90)" font-size="10.2" letter-spacing="0.37" text-anchor="middle">850 hPa Temp. (°C)</text>
<text transform="translate(842 296.3) rotate(-90)" font-size="10.2" letter-spacing="0.3" text-anchor="middle">Precipitation (mm)</text>
<text x="120.5" y="604" font-size="16">GFS Ensemble, 48N, 22.5E</text>
<text x="793.5" y="604" font-size="16" text-anchor="end">Wetterzentrale.de</text>
</g>
<g font-family="'DejaVu Sans', 'Liberation Sans', sans-serif" fill="#fff" font-size="10.45">
<line x1="-1" y1="41.9" x2="8" y2="41.9" stroke="#3000ff" stroke-width="2"/>
<text x="8.5" y="43.9">Control</text>
<line x1="-1" y1="56.9" x2="8" y2="56.9" stroke="#0050ff" stroke-width="2"/>
<text x="8.5" y="58.9">P2</text>
<line x1="-1" y1="71.9" x2="8" y2="71.9" stroke="#00b8ff" stroke-width="2"/>
<text x="8.5" y="73.9">P4</text>
<line x1="-1" y1="86.9" x2="8" y2="86.9" stroke="#00f0c0" stroke-width="2"/>
<text x="8.5" y="88.9">P6</text>
<line x1="-1" y1="101.9" x2="8" y2="101.9" stroke="#00f050" stroke-width="2"/>
<text x="8.5" y="103.9">P8</text>
<line x1="-1" y1="116.9" x2="8" y2="116.9" stroke="#20ff00" stroke-width="2"/>
<text x="8.5" y="118.9">P10</text>
<line x1="-1" y1="131.9" x2="8" y2="131.9" stroke="#ffdd00" stroke-width="2"/>
<text x="8.5" y="133.9">P12</text>
<line x1="-1" y1="146.9" x2="8" y2="146.9" stroke="#ffbb00" stroke-width="2"/>
<text x="8.5" y="148.9">P14</text>
<line x1="-1" y1="161.9" x2="8" y2="161.9" stroke="#ff8c00" stroke-width="2"/>
<text x="8.5" y="163.9">P16</text>
<line x1="-1" y1="176.9" x2="8" y2="176.9" stroke="#ff5a20" stroke-width="2"/>
<text x="8.5" y="178.9">P18</text>
<line x1="-1" y1="191.9" x2="8" y2="191.9" stroke="#cc2020" stroke-width="2"/>
<text x="8.5" y="193.9">P20</text>
<line x1="-1" y1="206.9" x2="8" y2="206.9" stroke="#0098ff" stroke-width="2"/>
<text x="8.5" y="208.9">P22</text>
<line x1="-1" y1="221.9" x2="8" y2="221.9" stroke="#00d8ff" stroke-width="2"/>
<text x="8.5" y="223.9">P24</text>
<line x1="-1" y1="236.9" x2="8" y2="236.9" stroke="#00f090" stroke-width="2"/>
<text x="8.5" y="238.9">P26</text>
<line x1="-1" y1="251.9" x2="8" y2="251.9" stroke="#00f030" stroke-width="2"/>
<text x="8.5" y="253.9">P28</text>
<line x1="-1" y1="266.9" x2="8" y2="266.9" stroke="#ffe600" stroke-width="2"/>
<text x="8.5" y="268.9">P30</text>
<line x1="53" y1="41.9" x2="64" y2="41.9" stroke="#0028ff" stroke-width="2"/>
<text x="64.5" y="43.9">P1</text>
<line x1="53" y1="56.9" x2="64" y2="56.9" stroke="#0090ff" stroke-width="2"/>
<text x="64.5" y="58.9">P3</text>
<line x1="53" y1="71.9" x2="64" y2="71.9" stroke="#00e0ff" stroke-width="2"/>
<text x="64.5" y="73.9">P5</text>
<line x1="53" y1="86.9" x2="64" y2="86.9" stroke="#00f090" stroke-width="2"/>
<text x="64.5" y="88.9">P7</text>
<line x1="53" y1="101.9" x2="64" y2="101.9" stroke="#00f030" stroke-width="2"/>
<text x="64.5" y="103.9">P9</text>
<line x1="53" y1="116.9" x2="64" y2="116.9" stroke="#ffee00" stroke-width="2"/>
<text x="64.5" y="118.9">P11</text>
<line x1="53" y1="131.9" x2="64" y2="131.9" stroke="#ffcc00" stroke-width="2"/>
<text x="64.5" y="133.9">P13</text>
<line x1="53" y1="146.9" x2="64" y2="146.9" stroke="#ffa000" stroke-width="2"/>
<text x="64.5" y="148.9">P15</text>
<line x1="53" y1="161.9" x2="64" y2="161.9" stroke="#ff7000" stroke-width="2"/>
<text x="64.5" y="163.9">P17</text>
<line x1="53" y1="176.9" x2="64" y2="176.9" stroke="#e04020" stroke-width="2"/>
<text x="64.5" y="178.9">P19</text>
<line x1="53" y1="191.9" x2="64" y2="191.9" stroke="#0070ff" stroke-width="2"/>
<text x="64.5" y="193.9">P21</text>
<line x1="53" y1="206.9" x2="64" y2="206.9" stroke="#00c8ff" stroke-width="2"/>
<text x="64.5" y="208.9">P23</text>
<line x1="53" y1="221.9" x2="64" y2="221.9" stroke="#00f0b0" stroke-width="2"/>
<text x="64.5" y="223.9">P25</text>
<line x1="53" y1="236.9" x2="64" y2="236.9" stroke="#00f060" stroke-width="2"/>
<text x="64.5" y="238.9">P27</text>
<line x1="53" y1="251.9" x2="64" y2="251.9" stroke="#00ff20" stroke-width="2"/>
<text x="64.5" y="253.9">P29</text>
<line x1="53" y1="266.6" x2="64" y2="266.6" stroke="#fff" stroke-width="2.5"/>
<text x="64.5" y="268.8">Ens. mean</text>
<line x1="53" y1="292.8" x2="64" y2="292.8" stroke="#ff4040" stroke-width="2.5"/>
<text x="64.5" y="296.7">1981-2010</text>
<text x="64.5" y="307.2">mean</text>
<line x1="-1" y1="307.0" x2="8" y2="307.0" stroke="#00ee00" stroke-width="2"/>
<text x="8.5" y="309.0">Oper</text>
</g>
</svg></body></html>
